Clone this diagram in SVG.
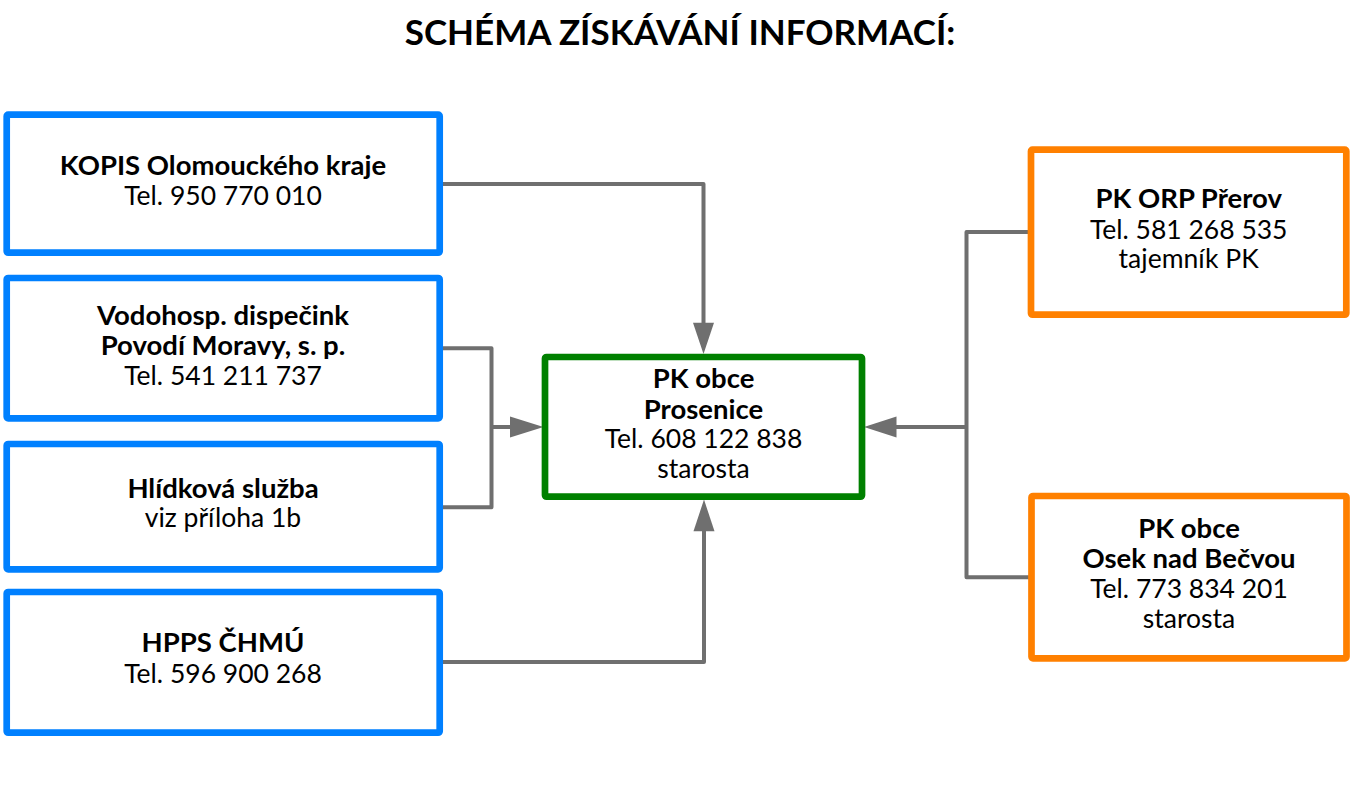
<svg xmlns="http://www.w3.org/2000/svg" width="1360" height="787" viewBox="0 0 1360 787">
<style>
.box{fill:#fff;stroke-width:6.7;stroke-linejoin:round}
.blue{stroke:#0080ff}
.green{stroke:#008000}
.orange{stroke:#ff8000}
text{font-family:Lato,"Liberation Sans",sans-serif;font-size:26.5px;fill:#000;text-anchor:middle}
.b{font-weight:bold;font-size:27.5px}
.title{font-size:35px;font-weight:bold}
.con{fill:none;stroke:#6f6f6f;stroke-width:4;stroke-linejoin:round}
.ah{fill:#6f6f6f}
</style>
<rect width="1360" height="787" fill="#fff"/>
<text class="title" x="680" y="45">SCHÉMA ZÍSKÁVÁNÍ INFORMACÍ:</text>
<g id="connectors">
<path class="con" d="M443 184 H703.5 V324"/>
<polygon class="ah" points="693,322.7 714,322.7 703.5,354"/>
<path class="con" d="M443 348.3 H491.5 V507.3 H443 M491.5 427 H512"/>
<polygon class="ah" points="510,416.5 510,437.5 543.5,427"/>
<path class="con" d="M443 662 H704 V530"/>
<polygon class="ah" points="693.5,531.3 714.5,531.3 704,499.5"/>
<path class="con" d="M1031 232 H966.5 V577.3 H1031 M966.5 427 H895"/>
<polygon class="ah" points="896.5,416.5 896.5,437.5 864,427"/>
</g>
<g id="kopis">
<rect class="box blue" x="6.7" y="114.7" width="433" height="138" rx="1.5"/>
<text class="b" x="223" y="175">KOPIS Olomouckého kraje</text>
<text x="223" y="205">Tel. 950 770 010</text>
</g>
<g id="vodohosp">
<rect class="box blue" x="6.7" y="278" width="433" height="140.3" rx="1.5"/>
<text class="b" x="223" y="325">Vodohosp. dispečink</text>
<text class="b" x="223" y="355">Povodí Moravy, s. p.</text>
<text x="223" y="384.5">Tel. 541 211 737</text>
</g>
<g id="hlidkova">
<rect class="box blue" x="6.7" y="444" width="433" height="125.3" rx="1.5"/>
<text class="b" x="223" y="497.7">Hlídková služba</text>
<text x="223" y="526.7">viz příloha 1b</text>
</g>
<g id="hpps">
<rect class="box blue" x="6.7" y="592" width="433" height="140.7" rx="1.5"/>
<text class="b" x="223" y="652">HPPS ČHMÚ</text>
<text x="223" y="683">Tel. 596 900 268</text>
</g>
<g id="prosenice">
<rect class="box green" x="545" y="357" width="317" height="139.7" rx="1.5"/>
<text class="b" x="703.5" y="388.3">PK obce</text>
<text class="b" x="703.5" y="419">Prosenice</text>
<text x="703.5" y="448.3">Tel. 608 122 838</text>
<text x="703.5" y="478.3">starosta</text>
</g>
<g id="prerov">
<rect class="box orange" x="1031" y="149.7" width="315.3" height="165" rx="1.5"/>
<text class="b" x="1188.7" y="208.3">PK ORP Přerov</text>
<text x="1188.7" y="239.3">Tel. 581 268 535</text>
<text x="1188.7" y="268.3">tajemník PK</text>
</g>
<g id="osek">
<rect class="box orange" x="1031.5" y="496" width="315" height="162.3" rx="1.5"/>
<text class="b" x="1189" y="538.3">PK obce</text>
<text class="b" x="1189" y="568.3">Osek nad Bečvou</text>
<text x="1189" y="598.3">Tel. 773 834 201</text>
<text x="1189" y="627.7">starosta</text>
</g>
</svg>
